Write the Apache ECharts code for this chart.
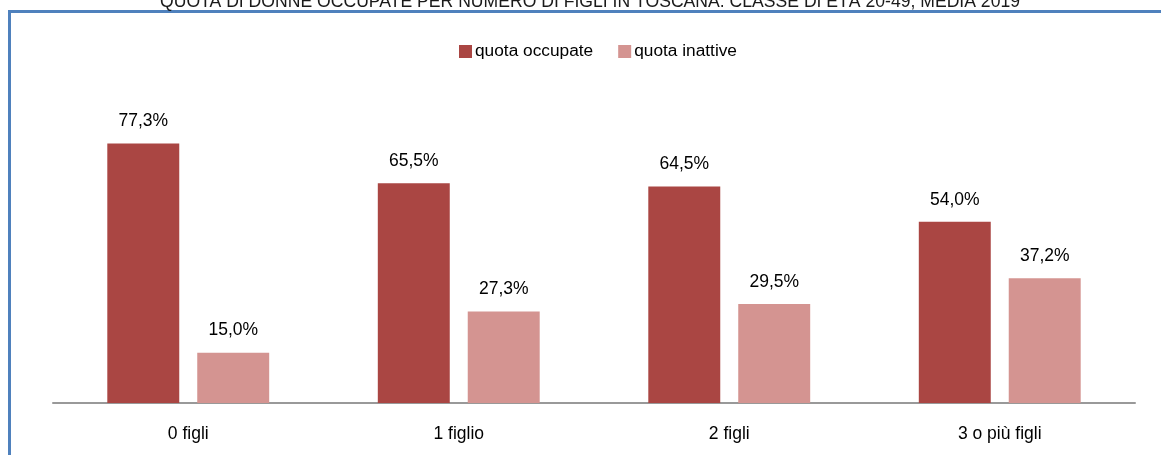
<!DOCTYPE html>
<html>
<head>
<meta charset="utf-8">
<script src="https://cdn.jsdelivr.net/npm/echarts@6/dist/echarts.min.js"></script>
<style>
html,body{margin:0;padding:0;background:#fff;}
#c{width:1161px;height:455px;}
</style>
</head>
<body>
<div id="c"></div>
<script>
var categories = ['0 figli', '1 figlio', '2 figli', '3 o più figli'];
var seriesNames = ['quota occupate', 'quota inattive'];
var occupate = [77.3, 65.5, 64.5, 54.0];
var inattive = [15.0, 27.3, 29.5, 37.2];
var titleText = 'QUOTA DI DONNE OCCUPATE PER NUMERO DI FIGLI IN TOSCANA. CLASSE DI ETÀ 20-49, MEDIA 2019';

var FONT = "'Liberation Sans Narrow', 'Arial Narrow', 'Liberation Sans', Arial, sans-serif";
var chart = echarts.init(document.getElementById('c'), null, {renderer: 'canvas'});
function fmt(p){ return p.value.toFixed(1).replace('.', ',') + '%'; }
chart.setOption({
  animation: false,
  backgroundColor: '#ffffff',
  graphic: [
    {type: 'rect', left: 8, top: 10, shape: {width: 1153, height: 3}, style: {fill: '#4F81BD'}},
    {type: 'rect', left: 8, top: 10, shape: {width: 3, height: 445}, style: {fill: '#4F81BD'}},
    {type: 'text', x: 590, y: 11, style: {text: titleText, fill: '#1a1a1a', font: "17.6px " + FONT, textAlign: 'center', textVerticalAlign: 'bottom'}}
  ],
  legend: {
    data: seriesNames,
    top: 38,
    left: 454,
    itemWidth: 13,
    itemHeight: 13,
    itemGap: 25,
    icon: 'rect',
    textStyle: {fontFamily: FONT, fontSize: 17.3, color: '#000', padding: [0, 0, 0, -2]}
  },
  grid: {left: 53, right: 26, top: 101, bottom: 52},
  xAxis: {
    type: 'category',
    data: categories,
    axisLine: {lineStyle: {color: '#999999', width: 2}},
    axisTick: {show: false},
    axisLabel: {fontFamily: FONT, fontSize: 17.5, color: '#000', margin: 22}
  },
  yAxis: {
    type: 'value', min: 0, max: 90, show: false,
    splitLine: {show: false}
  },
  series: [
    {name: seriesNames[0], type: 'bar', data: occupate, barWidth: '26.6%', barGap: '25%',
     itemStyle: {color: '#AA4643'},
     label: {show: true, position: 'top', distance: 13, formatter: fmt, fontFamily: FONT, fontSize: 17.5, color: '#000'}},
    {name: seriesNames[1], type: 'bar', data: inattive, barWidth: '26.6%', barGap: '25%',
     itemStyle: {color: '#D49491'},
     label: {show: true, position: 'top', distance: 13, formatter: fmt, fontFamily: FONT, fontSize: 17.5, color: '#000'}}
  ]
});
</script>
</body>
</html>
